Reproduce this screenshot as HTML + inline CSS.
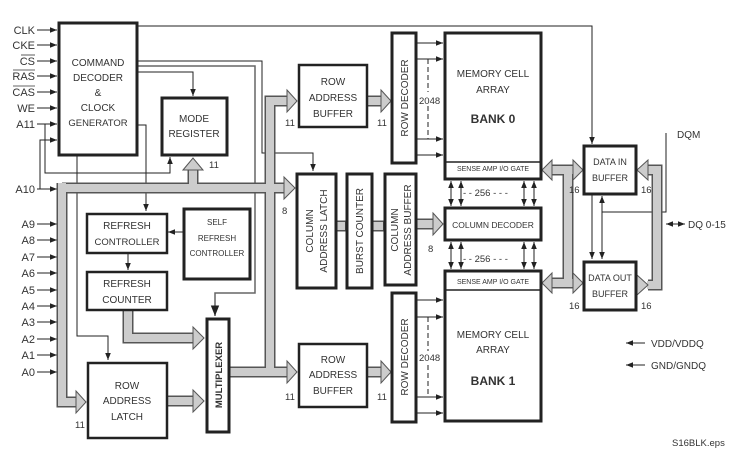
<!DOCTYPE html>
<html><head><meta charset="utf-8"><style>
html,body{margin:0;padding:0;background:#fff}
svg{display:block;font-family:"Liberation Sans",Arial,sans-serif;font-size:10px}
text{fill:#333}
</style></head><body>
<svg width="733" height="464" viewBox="0 0 733 464" xmlns="http://www.w3.org/2000/svg">
<defs>
<marker id="ah" viewBox="0 0 10 10" refX="10" refY="5" markerWidth="7" markerHeight="7" orient="auto-start-reverse"><path d="M0,1 L10,5 L0,9 z" fill="#222"/></marker>
</defs>
<rect width="733" height="464" fill="#fff"/>

<g stroke="#222" stroke-width="1" fill="none">
<polyline points="137,26 592,26 592,144" marker-end="url(#ah)"/>
<polyline points="137,61 262,61 262,153 313,153 313,171" marker-end="url(#ah)"/>
<polyline points="137,72 193,72 193,96" marker-end="url(#ah)"/>
<polyline points="137,125 146,125 146,211" marker-end="url(#ah)"/>
<polyline points="77,155 77,336 108,336 108,360" marker-end="url(#ah)"/>
<polyline points="45,124 45,173 170,173 170,157" marker-end="url(#ah)"/>
<polyline points="40,189 40,140 57,140" marker-end="url(#ah)"/>
<line x1="183" y1="232" x2="168" y2="232" marker-end="url(#ah)"/>
<line x1="128" y1="253" x2="128" y2="270" marker-end="url(#ah)"/>
<polyline points="666,133 666,212 602,212"/>
<line x1="602" y1="212" x2="602" y2="196" marker-end="url(#ah)"/>
<line x1="602" y1="212" x2="602" y2="259" marker-end="url(#ah)"/>
<line x1="592" y1="195" x2="592" y2="259" marker-end="url(#ah)"/>
<line x1="666" y1="224" x2="685" y2="224" marker-start="url(#ah)" marker-end="url(#ah)"/>
<line x1="645" y1="343" x2="626" y2="343" marker-end="url(#ah)"/>
<line x1="645" y1="365" x2="626" y2="365" marker-end="url(#ah)"/>
</g>
<polyline points="137,66 255,66 255,293 215,293 215,316" stroke="#666" stroke-width="1.5" fill="none" marker-end="url(#ah)"/>

<g stroke="#222" stroke-width="1">
<line x1="37" y1="30" x2="57" y2="30" marker-end="url(#ah)"/>
<line x1="37" y1="45" x2="57" y2="45" marker-end="url(#ah)"/>
<line x1="37" y1="61" x2="57" y2="61" marker-end="url(#ah)"/>
<line x1="37" y1="76" x2="57" y2="76" marker-end="url(#ah)"/>
<line x1="37" y1="92" x2="57" y2="92" marker-end="url(#ah)"/>
<line x1="37" y1="108" x2="57" y2="108" marker-end="url(#ah)"/>
<line x1="37" y1="124" x2="57" y2="124" marker-end="url(#ah)"/>
<line x1="37" y1="189" x2="57" y2="189" marker-end="url(#ah)"/>
<line x1="37" y1="224" x2="57" y2="224" marker-end="url(#ah)"/>
<line x1="37" y1="240" x2="57" y2="240" marker-end="url(#ah)"/>
<line x1="37" y1="257" x2="57" y2="257" marker-end="url(#ah)"/>
<line x1="37" y1="273" x2="57" y2="273" marker-end="url(#ah)"/>
<line x1="37" y1="290" x2="57" y2="290" marker-end="url(#ah)"/>
<line x1="37" y1="306" x2="57" y2="306" marker-end="url(#ah)"/>
<line x1="37" y1="322" x2="57" y2="322" marker-end="url(#ah)"/>
<line x1="37" y1="339" x2="57" y2="339" marker-end="url(#ah)"/>
<line x1="37" y1="355" x2="57" y2="355" marker-end="url(#ah)"/>
<line x1="37" y1="372" x2="57" y2="372" marker-end="url(#ah)"/>
</g>
<g text-anchor="end" font-size="11">
<text x="35" y="34">CLK</text><text x="35" y="49">CKE</text>
<text x="35" y="65">CS</text><text x="35" y="80">RAS</text><text x="35" y="96">CAS</text>
<text x="35" y="112">WE</text><text x="35" y="128">A11</text><text x="35" y="193">A10</text>
<text x="35" y="228">A9</text><text x="35" y="244">A8</text><text x="35" y="261">A7</text>
<text x="35" y="277">A6</text><text x="35" y="294">A5</text><text x="35" y="310">A4</text>
<text x="35" y="326">A3</text><text x="35" y="343">A2</text><text x="35" y="359">A1</text>
<text x="35" y="376">A0</text>
</g>
<g stroke="#333" stroke-width="0.8">
<line x1="21" y1="55" x2="35" y2="55"/><line x1="13" y1="70" x2="35" y2="70"/><line x1="13" y1="86" x2="35" y2="86"/>
</g>

<g fill="none" stroke-linejoin="miter" stroke-linecap="butt">
<g stroke="#555" stroke-width="11">
<polyline points="62,188 284,188"/><polyline points="62,183 62,402 77,402"/>
<line x1="193" y1="188" x2="193" y2="169"/>
<polyline points="229,372 270,372 270,101 287,101"/><line x1="270" y1="372" x2="287" y2="372"/>
<polyline points="128,310 128,338 193,338"/><line x1="167" y1="401" x2="193" y2="401"/>
<line x1="367" y1="101" x2="381" y2="101"/><line x1="367" y1="372" x2="381" y2="372"/>
<line x1="336" y1="226" x2="346" y2="226"/><line x1="372" y1="226" x2="384" y2="226"/>
<line x1="416" y1="224" x2="433" y2="224"/>
<line x1="568" y1="170" x2="568" y2="283"/><line x1="552" y1="170" x2="573" y2="170"/><line x1="552" y1="283" x2="573" y2="283"/>
<polyline points="648,170 657,170 657,285 648,285"/>
</g>
<g stroke="#ccc" stroke-width="8">
<polyline points="62,188 284,188"/><polyline points="62,183 62,402 78,402"/>
<line x1="193" y1="192" x2="193" y2="168"/>
<polyline points="228,372 270,372 270,101 288,101"/><line x1="270" y1="372" x2="288" y2="372"/>
<polyline points="128,309 128,338 194,338"/><line x1="168" y1="401" x2="194" y2="401"/>
<line x1="368" y1="101" x2="382" y2="101"/><line x1="368" y1="372" x2="382" y2="372"/>
<line x1="337" y1="226" x2="345" y2="226"/><line x1="373" y1="226" x2="383" y2="226"/>
<line x1="417" y1="224" x2="434" y2="224"/>
<line x1="568" y1="170" x2="568" y2="283"/><line x1="551" y1="170" x2="574" y2="170"/><line x1="551" y1="283" x2="574" y2="283"/>
<polyline points="647,170 657,170 657,285 647,285"/>
</g>
</g>
<g fill="#ccc" stroke="#555" stroke-width="1">
<polygon points="284,177 295,188 284,199"/>
<polygon points="76,391 86,402 76,413"/>
<polygon points="183,170 193,158 203,170"/>
<polygon points="287,90 297,101 287,112"/><polygon points="287,361 297,372 287,383"/>
<polygon points="193,327 204,338 193,349"/><polygon points="193,390 204,401 193,412"/>
<polygon points="381,90 391,101 381,112"/><polygon points="381,361 391,372 381,383"/>
<polygon points="433,213 443,224 433,235"/>
<polygon points="552,160 542,170 552,180"/><polygon points="573,160 583,170 573,180"/>
<polygon points="552,273 542,283 552,293"/><polygon points="573,273 583,283 573,293"/>
<polygon points="648,160 637,170 648,180"/><polygon points="637,275 648,285 637,295"/>
</g>

<g fill="#fff" stroke="#222" stroke-width="3">
<rect x="59" y="23" width="78" height="132"/>
<rect x="162" y="98" width="65" height="57"/>
<rect x="87" y="214" width="80" height="39" stroke-width="2.5"/>
<rect x="184" y="209" width="66" height="70"/>
<rect x="87" y="272" width="80" height="38" stroke-width="2.5"/>
<rect x="88" y="363" width="79" height="75" stroke-width="2.5"/>
<rect x="207" y="319" width="22" height="113"/>
<rect x="299" y="65" width="68" height="62" stroke-width="2.5"/>
<rect x="299" y="344" width="68" height="63" stroke-width="2.5"/>
<rect x="392" y="33" width="24" height="130"/>
<rect x="392" y="293" width="24" height="129"/>
<rect x="297" y="174" width="39" height="114"/>
<rect x="347" y="174" width="25" height="114"/>
<rect x="385" y="174" width="31" height="111"/>
<rect x="445" y="33" width="96" height="146"/>
<rect x="445" y="208" width="96" height="32"/>
<rect x="445" y="271" width="96" height="150"/>
<rect x="584" y="146" width="52" height="48"/>
<rect x="584" y="262" width="52" height="48"/>
</g>
<g stroke="#222" stroke-width="1.5"><line x1="445" y1="162" x2="541" y2="162"/><line x1="445" y1="290" x2="541" y2="290"/></g>

<g stroke="#222" stroke-width="1">
<line x1="417" y1="43" x2="443" y2="43" marker-end="url(#ah)"/><line x1="417" y1="59" x2="443" y2="59" marker-end="url(#ah)"/>
<line x1="417" y1="139" x2="443" y2="139" marker-end="url(#ah)"/><line x1="417" y1="155" x2="443" y2="155" marker-end="url(#ah)"/>
<line x1="417" y1="300" x2="443" y2="300" marker-end="url(#ah)"/><line x1="417" y1="317" x2="443" y2="317" marker-end="url(#ah)"/>
<line x1="417" y1="397" x2="443" y2="397" marker-end="url(#ah)"/><line x1="417" y1="413" x2="443" y2="413" marker-end="url(#ah)"/>
<line x1="428" y1="59" x2="428" y2="92" stroke-dasharray="5,3"/><line x1="428" y1="106" x2="428" y2="139" stroke-dasharray="5,3"/>
<line x1="428" y1="317" x2="428" y2="351" stroke-dasharray="5,3"/><line x1="428" y1="365" x2="428" y2="397" stroke-dasharray="5,3"/>
<g marker-start="url(#ah)" marker-end="url(#ah)">
<line x1="451" y1="181" x2="451" y2="206"/><line x1="461" y1="181" x2="461" y2="206"/>
<line x1="524" y1="181" x2="524" y2="206"/><line x1="534" y1="181" x2="534" y2="206"/>
<line x1="451" y1="242" x2="451" y2="269"/><line x1="461" y1="242" x2="461" y2="269"/>
<line x1="524" y1="242" x2="524" y2="269"/><line x1="534" y1="242" x2="534" y2="269"/>
</g>
</g>

<g text-anchor="middle">
<text x="98" y="66">COMMAND</text><text x="98" y="81">DECODER</text><text x="98" y="96">&amp;</text>
<text x="98" y="111">CLOCK</text><text x="98" y="126" font-size="9.5">GENERATOR</text>
<text x="194" y="122">MODE</text><text x="194" y="137">REGISTER</text>
<text x="127" y="229">REFRESH</text><text x="127" y="245" font-size="9.5">CONTROLLER</text>
<text x="217" y="225" font-size="8">SELF</text><text x="217" y="241" font-size="8">REFRESH</text><text x="217" y="256" font-size="8">CONTROLLER</text>
<text x="127" y="287">REFRESH</text><text x="127" y="303">COUNTER</text>
<text x="127" y="389">ROW</text><text x="127" y="404">ADDRESS</text><text x="127" y="420">LATCH</text>
<text x="333" y="85">ROW</text><text x="333" y="101">ADDRESS</text><text x="333" y="117">BUFFER</text>
<text x="333" y="363">ROW</text><text x="333" y="378">ADDRESS</text><text x="333" y="394">BUFFER</text>
<text x="493" y="77">MEMORY CELL</text><text x="493" y="93">ARRAY</text>
<text x="493" y="123" font-weight="bold" font-size="12">BANK 0</text>
<text x="493" y="171" font-size="7">SENSE AMP I/O GATE</text>
<text x="493" y="228" font-size="8.5">COLUMN DECODER</text>
<text x="493" y="284" font-size="7">SENSE AMP I/O GATE</text>
<text x="493" y="338">MEMORY CELL</text><text x="493" y="353">ARRAY</text>
<text x="493" y="385" font-weight="bold" font-size="12">BANK 1</text>
<text x="610" y="165" font-size="9">DATA IN</text><text x="610" y="181" font-size="9">BUFFER</text>
<text x="610" y="281" font-size="9">DATA OUT</text><text x="610" y="297" font-size="9">BUFFER</text>
</g>
<g text-anchor="middle" font-size="10">
<text transform="translate(222,375) rotate(-90)" font-weight="bold" font-size="9.5">MULTIPLEXER</text>
<text transform="translate(408,98) rotate(-90)">ROW DECODER</text>
<text transform="translate(408,357) rotate(-90)">ROW DECODER</text>
<text transform="translate(313,231) rotate(-90)">COLUMN</text>
<text transform="translate(327,231) rotate(-90)">ADDRESS LATCH</text>
<text transform="translate(363,231) rotate(-90)">BURST COUNTER</text>
<text transform="translate(398,230) rotate(-90)">COLUMN</text>
<text transform="translate(411,230) rotate(-90)">ADDRESS BUFFER</text>
</g>
<g font-size="9.5">
<text x="209" y="168">11</text><text x="282" y="214">8</text>
<text x="285" y="126">11</text><text x="285" y="400">11</text>
<text x="377" y="126">11</text><text x="377" y="400">11</text>
<text x="75" y="428">11</text><text x="428" y="252">8</text>
<text x="419" y="104">2048</text><text x="419" y="361">2048</text>
<text x="463" y="196">- - 256 - - -</text><text x="463" y="262">- - 256 - - -</text>
<text x="569" y="193">16</text><text x="641" y="193">16</text>
<text x="569" y="309">16</text><text x="641" y="309">16</text>
</g>
<text x="677" y="138">DQM</text>
<text x="688" y="228">DQ 0-15</text>
<text x="651" y="347">VDD/VDDQ</text>
<text x="651" y="369">GND/GNDQ</text>
<text x="672" y="446" font-size="9.5">S16BLK.eps</text>
</svg>
</body></html>
